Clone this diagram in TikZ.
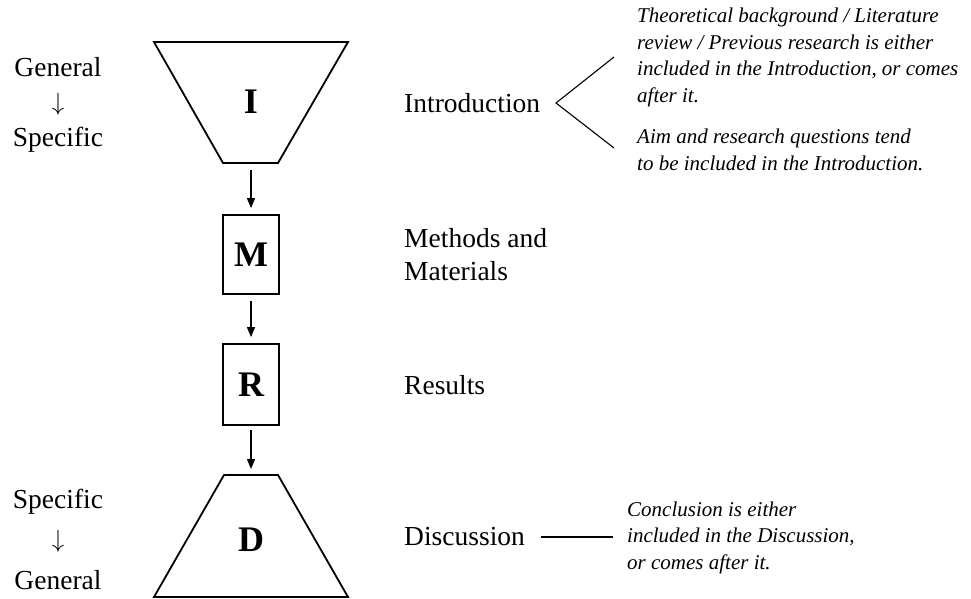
\documentclass[tikz,border=0pt]{standalone}
\usepackage{fontspec}
\setmainfont{Liberation Serif}
\usetikzlibrary{arrows.meta}
\begin{document}
\begin{tikzpicture}[x=1pt,y=-1pt,
  shapeline/.style={draw=black,line width=1.8pt,line join=miter},
  flow/.style={draw=black,line width=1.2pt,-{Triangle[width=8pt,length=10pt]}},
  thin/.style={draw=black,line width=1.1pt},
  letter/.style={font=\fontsize{36}{40}\selectfont\bfseries,inner sep=0pt},
  label/.style={font=\fontsize{27.5}{33}\selectfont,inner sep=0pt,anchor=west,align=left},
  note/.style={font=\fontsize{21}{26.5}\selectfont\itshape,inner sep=0pt,anchor=west,align=left},
  side/.style={font=\fontsize{27.5}{33}\selectfont,inner sep=0pt}]
\useasboundingbox (0,0) rectangle (971,599);
% I trapezoid
\coordinate (I1) at (154,42); \coordinate (I2) at (348,42);
\coordinate (I3) at (278,163); \coordinate (I4) at (223,163);
\draw[shapeline] (I1) -- (I2) -- (I3) -- (I4) -- cycle;
\node[letter] (I) at (251,102) {I};
\coordinate (Ibot) at (251,163);
% M box
\node[shapeline,minimum width=56pt,minimum height=79pt,inner sep=0pt] (Mbox) at (251,254.5) {};
\node[letter] (M) at (251,254.5) {M};
% R box
\node[shapeline,minimum width=56pt,minimum height=81pt,inner sep=0pt] (Rbox) at (251,384.5) {};
\node[letter] (R) at (251,384.5) {R};
% D trapezoid
\coordinate (D1) at (224,475); \coordinate (D2) at (278,475);
\coordinate (D3) at (348,597); \coordinate (D4) at (154,597);
\draw[shapeline] (D1) -- (D2) -- (D3) -- (D4) -- cycle;
\node[letter] (D) at (251,540) {D};
\coordinate (Dtop) at (251,475);
% arrows
\draw[flow,shorten <=7pt,shorten >=6pt] (Ibot) -- (Mbox.north);
\draw[flow,shorten <=6pt,shorten >=6pt] (Mbox.south) -- (Rbox.north);
\draw[flow,shorten <=4pt,shorten >=6pt] (Rbox.south) -- (Dtop);
% left side
\node[side] (g1) at (58,67) {General};
\node[side] (a1) at (58,104) {$\downarrow$};
\node[side] (s1) at (58,140) {Specific};
\node[side] (s2) at (58,502) {Specific};
\node[side] (a2) at (58,541) {$\downarrow$};
\node[side] (g2) at (58,580) {General};
% labels
\node[label] (intro) at (404,103) {Introduction};
\node[label] (meth) at (404,255) {Methods and\\Materials};
\node[label] (res) at (404,385) {Results};
\node[label] (disc) at (404,537) {Discussion};
% notes
\node[note] (n1) at (637,57.5) {Theoretical background / Literature\\review / Previous research is either\\included in the Introduction, or comes\\after it.};
\node[note] (n2) at (637,150) {Aim and research questions tend\\to be included in the Introduction.};
\node[note] (n3) at (627,537.5) {Conclusion is either\\included in the Discussion,\\or comes after it.};
% bracket
\coordinate (v) at (556,103);
\coordinate (b1) at (614,57);
\coordinate (b2) at (614,148);
\draw[thin] (b1) -- (v) -- (b2);
\coordinate (dl) at (541,537);
\coordinate (dr) at (613,537);
\draw[thin] (dl) -- (dr);
\end{tikzpicture}
\end{document}
